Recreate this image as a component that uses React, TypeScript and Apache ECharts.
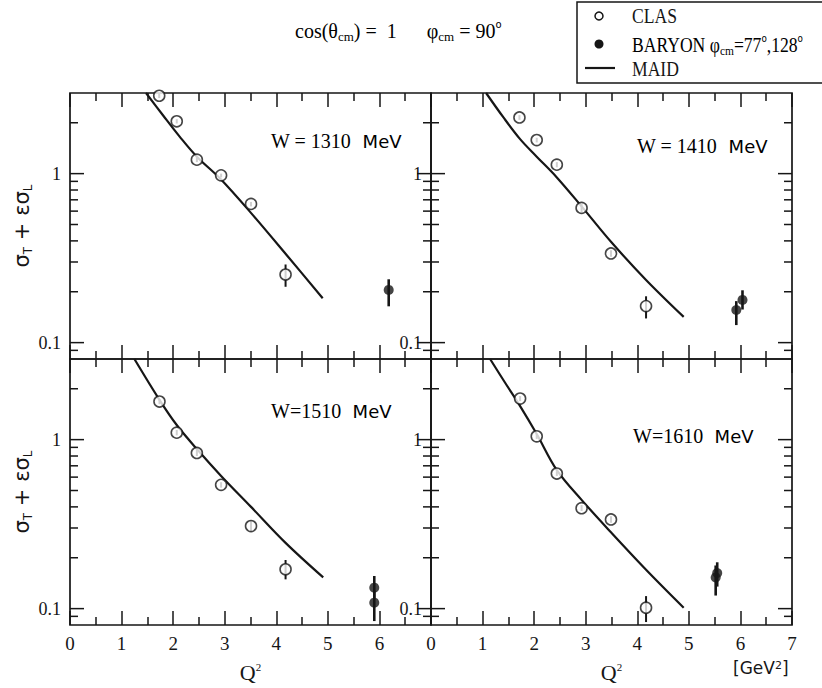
import React, { useEffect, useRef } from 'react';
import * as echarts from 'echarts';

// ---- Data: Q^2 in GeV^2, sigma_T + eps*sigma_L (log scale) ----

// MAID model curves
const maidQ1310 = [1.474, 1.81, 2.13, 2.46, 2.92, 3.5, 4.2, 4.9];
const maidS1310 = [3.0, 2.2, 1.65, 1.26, 0.93, 0.59, 0.33, 0.183];
const maidQ1410 = [1.068, 1.405, 1.728, 2.05, 2.44, 2.92, 3.49, 4.17, 4.9];
const maidS1410 = [3.0, 2.15, 1.6, 1.26, 0.95, 0.64, 0.395, 0.235, 0.142];
const maidQ1510 = [1.249, 1.735, 2.07, 2.46, 2.93, 3.51, 4.18, 4.91];
const maidS1510 = [3.0, 1.72, 1.22, 0.88, 0.61, 0.4, 0.245, 0.153];
const maidQ1610 = [1.146, 1.437, 1.728, 2.05, 2.44, 2.92, 3.49, 4.17, 4.9];
const maidS1610 = [3.0, 2.17, 1.58, 1.08, 0.66, 0.44, 0.283, 0.17, 0.1013];

// CLAS points with error bars
const clasQ1310 = [1.73, 2.07, 2.46, 2.93, 3.51, 4.18];
const clasS1310 = [2.89, 2.04, 1.21, 0.977, 0.662, 0.253];
const clasLo1310 = [2.8, 1.98, 1.17, 0.95, 0.64, 0.214];
const clasHi1310 = [2.98, 2.1, 1.25, 1.0, 0.68, 0.29];

const clasQ1410 = [1.715, 2.05, 2.44, 2.92, 3.49, 4.17];
const clasS1410 = [2.15, 1.58, 1.13, 0.627, 0.337, 0.1645];
const clasLo1410 = [2.08, 1.53, 1.09, 0.585, 0.322, 0.139];
const clasHi1410 = [2.22, 1.63, 1.17, 0.66, 0.352, 0.188];

const clasQ1510 = [1.735, 2.07, 2.46, 2.93, 3.51, 4.18];
const clasS1510 = [1.68, 1.1, 0.834, 0.54, 0.308, 0.171];
const clasLo1510 = [1.62, 1.06, 0.8, 0.52, 0.287, 0.149];
const clasHi1510 = [1.74, 1.14, 0.87, 0.56, 0.33, 0.194];

const clasQ1610 = [1.728, 2.05, 2.44, 2.92, 3.49, 4.17];
const clasS1610 = [1.75, 1.046, 0.63, 0.393, 0.337, 0.1013];
const clasLo1610 = [1.69, 1.01, 0.61, 0.378, 0.322, 0.0833];
const clasHi1610 = [1.81, 1.08, 0.65, 0.41, 0.352, 0.1186];

// BARYON points with error bars
const baryonQ1310 = [6.18];
const baryonS1310 = [0.205];
const baryonLo1310 = [0.164];
const baryonHi1310 = [0.237];

const baryonQ1410 = [5.92, 6.04];
const baryonS1410 = [0.156, 0.179];
const baryonLo1410 = [0.127, 0.157];
const baryonHi1410 = [0.176, 0.204];

const baryonQ1510 = [5.9, 5.9];
const baryonS1510 = [0.133, 0.1085];
const baryonLo1510 = [0.115, 0.0844];
const baryonHi1510 = [0.156, 0.128];

const baryonQ1610 = [5.52, 5.55];
const baryonS1610 = [0.153, 0.1625];
const baryonLo1610 = [0.1195, 0.135];
const baryonHi1610 = [0.18, 0.188];

// Panel energies
const panelW = ['W = 1310', 'W = 1410', 'W=1510', 'W=1610'];

// Axis ticks
const xMin = 0;
const xMax = 7;
const yMin = 0.08;
const yMax = 3;
const yMajorTicks = [0.1, 1];
const yMinorTicks = [0.09, 0.2, 0.3, 0.4, 0.5, 0.6, 0.7, 0.8, 0.9, 2];

const INK = '#161616';
const SERIF = '"Liberation Serif", "DejaVu Serif", serif';
const SANS = '"DejaVu Sans", "Liberation Sans", sans-serif';

const zip2 = (a: number[], b: number[]) => a.map((v, i) => [v, b[i]]);
const zip3 = (a: number[], b: number[], c: number[]) => a.map((v, i) => [v, b[i], c[i]]);

const panels = [
  { maid: zip2(maidQ1310, maidS1310), clas: zip2(clasQ1310, clasS1310), clasErr: zip3(clasQ1310, clasLo1310, clasHi1310), bar: zip2(baryonQ1310, baryonS1310), barErr: zip3(baryonQ1310, baryonLo1310, baryonHi1310) },
  { maid: zip2(maidQ1410, maidS1410), clas: zip2(clasQ1410, clasS1410), clasErr: zip3(clasQ1410, clasLo1410, clasHi1410), bar: zip2(baryonQ1410, baryonS1410), barErr: zip3(baryonQ1410, baryonLo1410, baryonHi1410) },
  { maid: zip2(maidQ1510, maidS1510), clas: zip2(clasQ1510, clasS1510), clasErr: zip3(clasQ1510, clasLo1510, clasHi1510), bar: zip2(baryonQ1510, baryonS1510), barErr: zip3(baryonQ1510, baryonLo1510, baryonHi1510) },
  { maid: zip2(maidQ1610, maidS1610), clas: zip2(clasQ1610, clasS1610), clasErr: zip3(clasQ1610, clasLo1610, clasHi1610), bar: zip2(baryonQ1610, baryonS1610), barErr: zip3(baryonQ1610, baryonLo1610, baryonHi1610) },
];

const gridBoxes = [
  { left: 70, top: 93, width: 361, height: 266 },
  { left: 431, top: 93, width: 361, height: 266 },
  { left: 70, top: 359, width: 361, height: 266 },
  { left: 431, top: 359, width: 361, height: 266 },
];

const wLabelPos = [
  [271, 141],
  [637, 146],
  [271, 411],
  [633, 436],
];

function errorBarSeries(gi: number, data: number[][], width: number, z: number) {
  return {
    type: 'custom',
    xAxisIndex: gi,
    yAxisIndex: gi,
    z,
    encode: { x: 0, y: [1, 2] },
    data,
    renderItem: (_p: any, api: any) => {
      const q = api.value(0);
      const a = api.coord([q, api.value(1)]);
      const b = api.coord([q, api.value(2)]);
      return {
        type: 'line',
        shape: { x1: a[0], y1: a[1], x2: b[0], y2: b[1] },
        style: { stroke: INK, lineWidth: width },
      };
    },
  };
}

function yTickSeries(gi: number) {
  const data = [
    ...yMajorTicks.map((v) => [xMin, v, 1]),
    ...yMinorTicks.map((v) => [xMin, v, 0]),
  ];
  return {
    type: 'custom',
    xAxisIndex: gi,
    yAxisIndex: gi,
    z: 1,
    silent: true,
    encode: { x: 0, y: 1 },
    data,
    renderItem: (_p: any, api: any) => {
      const v = api.value(1);
      const len = api.value(2) === 1 ? 14 : 8;
      const l = api.coord([xMin, v]);
      const r = api.coord([xMax, v]);
      const st = { stroke: INK, lineWidth: 1.5 };
      return {
        type: 'group',
        children: [
          { type: 'line', shape: { x1: l[0], y1: l[1], x2: l[0] + len, y2: l[1] }, style: st },
          { type: 'line', shape: { x1: r[0] - len, y1: r[1], x2: r[0], y2: r[1] }, style: st },
        ],
      };
    },
  };
}

export default function App() {
  const ref = useRef<HTMLDivElement>(null);

  useEffect(() => {
    if (!ref.current) return;
    const chart = echarts.init(ref.current, undefined, { renderer: 'svg' });

    const grids = gridBoxes.map((g) => ({
      ...g,
      show: true,
      borderColor: INK,
      borderWidth: 1.7,
      backgroundColor: 'transparent',
      containLabel: false,
    }));

    const tickCommon = {
      axisTick: { show: true, inside: true, length: 14, lineStyle: { color: INK, width: 1.5 } },
      minorTick: { show: true, splitNumber: 2, length: 8, lineStyle: { color: INK, width: 1.5 } },
      axisLine: { show: false },
      splitLine: { show: false },
      minorSplitLine: { show: false },
    };

    const bottomAxes = gridBoxes.map((_, i) => ({
      type: 'value',
      gridIndex: i,
      position: 'bottom',
      min: xMin,
      max: xMax,
      interval: 1,
      ...tickCommon,
      axisLabel: {
        show: i >= 2,
        margin: 9,
        fontFamily: SERIF,
        fontSize: 19,
        color: INK,
        formatter: (v: number) => (i === 2 && v === 7 ? '' : String(v)),
      },
      name: i >= 2 ? 'Q{sup|2}' : '',
      nameLocation: 'middle',
      nameGap: 36,
      nameTextStyle: {
        fontFamily: SERIF,
        fontSize: 22,
        color: INK,
        rich: {
          sup: { fontFamily: SERIF, fontSize: 11, verticalAlign: 'top', lineHeight: 11, color: INK },
        },
      },
    }));

    const topAxes = gridBoxes.map((_, i) => ({
      type: 'value',
      gridIndex: i,
      position: 'top',
      min: xMin,
      max: xMax,
      interval: 1,
      ...tickCommon,
      axisLabel: { show: false },
    }));

    const yAxes = gridBoxes.map((_, i) => ({
      type: 'log',
      logBase: 10,
      gridIndex: i,
      min: yMin,
      max: yMax,
      axisLine: { show: false },
      axisTick: { show: false },
      splitLine: { show: false },
      axisLabel: {
        show: true,
        margin: 9,
        fontFamily: SERIF,
        fontSize: 18,
        color: INK,
        formatter: (v: number) => {
          if (Math.abs(v - 1) < 1e-6) return '1';
          if (Math.abs(v - 0.1) < 1e-6) return '0.1';
          return '';
        },
      },
      name: i % 2 === 0 ? '{s|σ}{sub|T}{s| + εσ}{sub|L}' : '',
      nameLocation: 'middle',
      nameGap: 36,
      nameTextStyle: {
        rich: {
          s: { fontFamily: SANS, fontSize: 21, lineHeight: 25, color: INK },
          sub: { fontFamily: SANS, fontSize: 12, lineHeight: 12, verticalAlign: 'bottom', color: INK },
        },
      },
    }));

    const series: any[] = [];
    panels.forEach((p, gi) => {
      series.push(yTickSeries(gi));
      series.push({
        type: 'line',
        name: 'MAID',
        xAxisIndex: gi,
        yAxisIndex: gi,
        data: p.maid,
        smooth: 0.35,
        showSymbol: false,
        symbol: 'none',
        lineStyle: { color: INK, width: 2.2 },
        z: 2,
      });
      series.push(errorBarSeries(gi, p.clasErr, 2, 3));
      series.push({
        type: 'scatter',
        name: 'CLAS',
        xAxisIndex: gi,
        yAxisIndex: gi,
        data: p.clas,
        symbol: 'circle',
        symbolSize: 11,
        itemStyle: { color: '#fff', borderColor: INK, borderWidth: 1.6 },
        z: 4,
      });
      series.push(errorBarSeries(gi, p.barErr, 2.6, 5));
      series.push({
        type: 'scatter',
        name: 'BARYON',
        xAxisIndex: gi,
        yAxisIndex: gi,
        data: p.bar,
        symbol: 'circle',
        symbolSize: 10,
        itemStyle: { color: INK, borderColor: INK, borderWidth: 0 },
        z: 6,
      });
    });

    const richSubSup = {
      t: { fontFamily: SERIF, fontSize: 20, lineHeight: 24, color: INK },
      sub: { fontFamily: SERIF, fontSize: 13, lineHeight: 12, verticalAlign: 'bottom', color: INK },
      sup: { fontFamily: SANS, fontSize: 10, lineHeight: 10, verticalAlign: 'top', color: INK },
    };

    const graphics: any[] = [
      // heading
      {
        type: 'text',
        x: 295,
        y: 31,
        style: {
          text: '{t|cos(θ}{sub|cm}{t|) =  1      φ}{sub|cm}{t| = 90}{sup|o}',
          verticalAlign: 'middle',
          rich: richSubSup,
        },
      },
      // legend box
      {
        type: 'rect',
        shape: { x: 577, y: 2, width: 262, height: 81 },
        style: { fill: '#fff', stroke: INK, lineWidth: 1.5 },
      },
      { type: 'circle', shape: { cx: 599, cy: 16, r: 4 }, style: { fill: '#fff', stroke: INK, lineWidth: 1.5 } },
      { type: 'circle', shape: { cx: 599, cy: 44, r: 4.5 }, style: { fill: INK } },
      { type: 'line', shape: { x1: 585, y1: 68, x2: 615, y2: 68 }, style: { stroke: INK, lineWidth: 2.2 } },
      {
        type: 'text',
        x: 632,
        y: 16,
        scaleX: 0.88,
        style: { text: 'CLAS', fontFamily: SERIF, fontSize: 20, fill: INK, verticalAlign: 'middle' },
      },
      {
        type: 'text',
        x: 632,
        y: 45,
        scaleX: 0.88,
        style: {
          text: '{t|BARYON φ}{sub|cm}{t|=77}{sup|o}{t|,128}{sup|o}',
          verticalAlign: 'middle',
          rich: richSubSup,
        },
      },
      {
        type: 'text',
        x: 632,
        y: 69,
        scaleX: 0.88,
        style: { text: 'MAID', fontFamily: SERIF, fontSize: 20, fill: INK, verticalAlign: 'middle' },
      },
      // unit
      {
        type: 'text',
        x: 733,
        y: 668,
        style: {
          text: '[GeV{sup|2}]',
          fontFamily: SANS,
          fontSize: 17,
          fill: INK,
          verticalAlign: 'middle',
          rich: { sup: { fontFamily: SANS, fontSize: 11, lineHeight: 11, verticalAlign: 'top', color: INK } },
        },
      },
      // panel energies
      ...panelW.map((w, i) => ({
        type: 'text',
        x: wLabelPos[i][0],
        y: wLabelPos[i][1],
        style: {
          text: `{a|${w}}{b|  MeV}`,
          verticalAlign: 'middle',
          rich: {
            a: { fontFamily: SERIF, fontSize: 20, color: INK },
            b: { fontFamily: SANS, fontSize: 18, color: INK },
          },
        },
      })),
    ];

    chart.setOption({
      animation: false,
      backgroundColor: '#fff',
      grid: grids,
      xAxis: [...bottomAxes, ...topAxes],
      yAxis: yAxes,
      series,
      graphic: graphics,
    });

    return () => chart.dispose();
  }, []);

  return (
    <div
      ref={ref}
      style={{ position: 'absolute', left: 0, top: 0, width: 822, height: 688, background: '#fff' }}
    />
  );
}
